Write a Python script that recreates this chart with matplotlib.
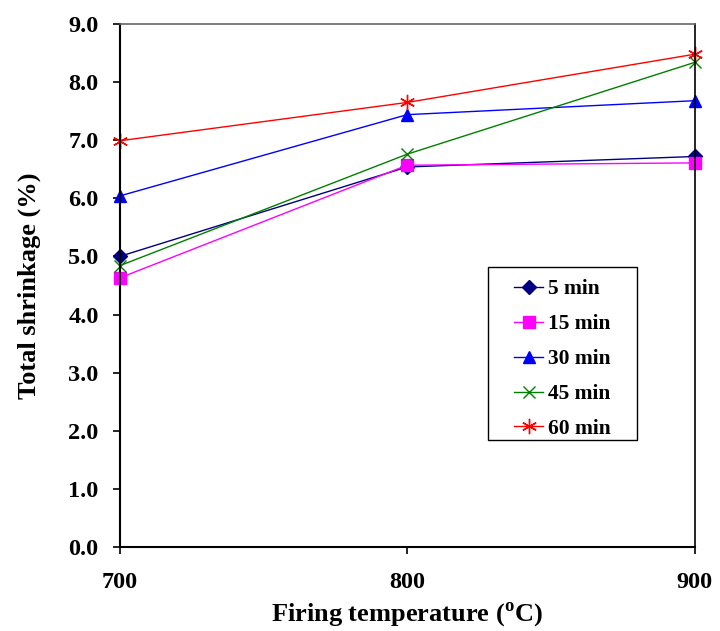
import numpy as np
import matplotlib
matplotlib.use('Agg')
import matplotlib.pyplot as plt
from matplotlib.patches import Rectangle

# firing temperature (C) and total shrinkage (%) per firing time
temps = [700, 800, 900]
shrink_5 = [5.00, 6.54, 6.72]
shrink_15 = [4.63, 6.57, 6.61]
shrink_30 = [6.04, 7.44, 7.68]
shrink_45 = [4.84, 6.76, 8.34]
shrink_60 = [6.99, 7.65, 8.48]
labels = ['5 min', '15 min', '30 min', '45 min', '60 min']

plt.rcParams['font.family'] = 'Liberation Serif'
plt.rcParams['font.weight'] = 'bold'
plt.rcParams['mathtext.fontset'] = 'custom'
plt.rcParams['mathtext.rm'] = 'Liberation Serif:bold'
plt.rcParams['mathtext.bf'] = 'Liberation Serif:bold'

fig = plt.figure(figsize=(7.2, 6.31), dpi=100)
ax = fig.add_axes([0.166, 0.133, 0.799, 0.829])

styles = [
    dict(color='#000080', marker='D', ms=7),
    dict(color='#FF00FF', marker='s', ms=8),
    dict(color='#0000FF', marker='^', ms=9),
    dict(color='#008000', marker='x', ms=9, mew=1),
    dict(color='#FF0000', marker=(6, 2, 0), ms=11, mew=1),
]
series = [shrink_5, shrink_15, shrink_30, shrink_45, shrink_60]
for vals, lab, st in zip(series, labels, styles):
    ax.plot(temps, vals, lw=1, label=lab, clip_on=False, **st)

ax.set_xlim(700, 900)
ax.set_ylim(0, 9)
ax.set_xticks(temps)
ax.set_yticks(np.arange(0, 9.1, 1.0))
ax.set_yticklabels([f'{v:.1f}' for v in np.arange(0, 9.1, 1.0)])
ax.tick_params(axis='both', direction='out', length=5, width=1.2,
               labelsize=17.5)
ax.tick_params(axis='y', pad=10)
ax.tick_params(axis='x', pad=13)
ax.spines['left'].set_linewidth(1.5)
ax.spines['bottom'].set_linewidth(1.5)
ax.spines['right'].set_linewidth(1.2)
ax.spines['top'].set_color('#666666')
ax.spines['top'].set_linewidth(1.2)

ax.set_ylabel('Total shrinkage (%)', fontsize=19, fontweight='bold', labelpad=20)
ax.set_xlabel(r'Firing temperature ($^{\mathrm{o}}$C)', fontsize=19,
              fontweight='bold', labelpad=5)

# legend box drawn separately so the padding can match the original
ax.add_patch(Rectangle((0.6406, 0.2046), 0.2584, 0.3308, transform=ax.transAxes,
                       facecolor='white', edgecolor='black', lw=1.0, zorder=4))
leg = ax.legend(loc='upper left', bbox_to_anchor=(0.6858, 0.512), fontsize=15.5,
                frameon=False, handlelength=1.35, handletextpad=0.25,
                labelspacing=0.69, borderpad=0, borderaxespad=0)
leg.set_zorder(5)

fig.savefig('out.png', dpi=100)
